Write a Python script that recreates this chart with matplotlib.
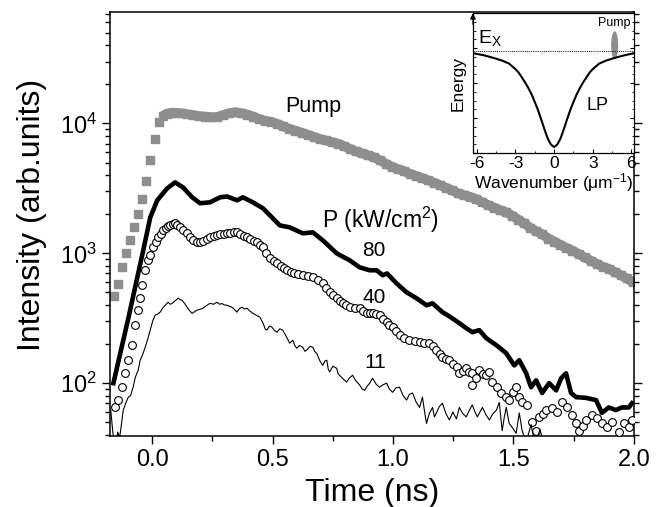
"""
Time-resolved emission intensity for several pump powers, with a dispersion inset.
"""
import matplotlib
matplotlib.use("Agg")
import matplotlib.pyplot as plt
from matplotlib.patches import Ellipse
from matplotlib.ticker import MultipleLocator, LogLocator, NullFormatter

plt.rcParams['font.family'] = ['Liberation Sans', 'DejaVu Sans']
plt.rcParams['mathtext.default'] = 'regular'

# ── data ────────────────────────────────────────────────────────────────────
t_pump = [-0.160, -0.143, -0.126, -0.109, -0.092, -0.075, -0.058, -0.041, -0.024, -0.007,
          0.010, 0.027, 0.044, 0.061, 0.078, 0.095, 0.120, 0.145, 0.170, 0.195,
          0.220, 0.245, 0.270, 0.295, 0.320, 0.345, 0.370, 0.395, 0.420, 0.445,
          0.470, 0.495, 0.520, 0.545, 0.570, 0.595, 0.620, 0.645, 0.670, 0.695,
          0.720, 0.745, 0.770, 0.795, 0.820, 0.845, 0.870, 0.895, 0.920, 0.945,
          0.970, 0.995, 1.020, 1.045, 1.070, 1.095, 1.120, 1.145, 1.170, 1.195,
          1.220, 1.245, 1.270, 1.295, 1.320, 1.345, 1.370, 1.395, 1.420, 1.445,
          1.470, 1.495, 1.520, 1.545, 1.570, 1.595, 1.620, 1.645, 1.670, 1.695,
          1.720, 1.745, 1.770, 1.795, 1.820, 1.845, 1.870, 1.895, 1.920, 1.945,
          1.970, 1.995]
i_pump = [470, 580, 780, 1000, 1260, 1600, 2000, 2600, 3600, 5200,
          7600, 10200, 11400, 11900, 12100, 12100, 12000, 11800, 11600, 11400,
          11300, 11200, 11200, 11600, 12000, 12200, 12000, 11700, 11300, 10800,
          10500, 10300, 9900, 9500, 9100, 8800, 8500, 8200, 7900, 7600,
          7400, 7200, 7000, 6700, 6400, 6100, 5900, 5700, 5500, 5200,
          4900, 4650, 4450, 4300, 4100, 3950, 3800, 3650, 3500, 3350,
          3200, 3050, 2900, 2800, 2720, 2620, 2480, 2350, 2250, 2150,
          2070, 1950, 1820, 1700, 1570, 1480, 1400, 1300, 1230, 1160,
          1100, 1050, 990, 930, 880, 830, 790, 760, 720, 680,
          640, 600]

t_80 = [-0.161, -0.099, -0.037, -0.008, 0.021, 0.062, 0.095, 0.128, 0.166, 0.199,
        0.240, 0.282, 0.311, 0.352, 0.377, 0.418, 0.460, 0.501, 0.530, 0.571,
        0.625, 0.667, 0.708, 0.766, 0.820, 0.861, 0.903, 0.932, 0.957, 0.975,
        1.014, 1.056, 1.097, 1.139, 1.164, 1.205, 1.234, 1.275, 1.304, 1.329,
        1.358, 1.387, 1.429, 1.470, 1.503, 1.524, 1.553, 1.573, 1.594, 1.619,
        1.648, 1.677, 1.698, 1.718, 1.739, 1.760, 1.801, 1.843, 1.867, 1.896,
        1.925, 1.950, 1.979, 1.992]
i_80 = [100, 316, 1055, 1890, 2560, 3160, 3520, 3220, 2700, 2430,
        2470, 2700, 2740, 2560, 2700, 2470, 2220, 1860, 1640, 1585,
        1425, 1450, 1260, 1000, 883, 780, 740, 740, 678, 700,
        588, 501, 451, 398, 412, 352, 327, 290, 265, 247,
        256, 222, 196, 170, 137, 150, 119, 93, 105, 84,
        100, 88, 109, 119, 84, 78, 77, 74, 59, 65,
        62, 65, 65, 70]

t_40 = [-0.153, -0.141, -0.124, -0.112, -0.099, -0.083, -0.070, -0.058, -0.050, -0.041,
        -0.029, -0.017, -0.008, 0.004, 0.014, 0.025, 0.035, 0.046, 0.057, 0.066,
        0.075, 0.085, 0.095, 0.105, 0.116, 0.130, 0.145, 0.157, 0.170, 0.185,
        0.199, 0.213, 0.228, 0.242, 0.256, 0.269, 0.283, 0.297, 0.311, 0.325,
        0.338, 0.352, 0.366, 0.380, 0.393, 0.407, 0.421, 0.435, 0.447, 0.460,
        0.474, 0.489, 0.504, 0.518, 0.533, 0.546, 0.559, 0.575, 0.590, 0.606,
        0.625, 0.645, 0.667, 0.687, 0.708, 0.722, 0.737, 0.751, 0.766, 0.778,
        0.791, 0.805, 0.820, 0.840, 0.861, 0.876, 0.890, 0.905, 0.915, 0.930,
        0.944, 0.958, 0.973, 0.985, 0.998, 1.012, 1.027, 1.047, 1.068, 1.090,
        1.110, 1.130, 1.151, 1.165, 1.180, 1.193, 1.205, 1.220, 1.234, 1.250,
        1.267, 1.275, 1.290, 1.304, 1.316, 1.329, 1.329, 1.345, 1.358, 1.372,
        1.387, 1.400, 1.412, 1.433, 1.449, 1.470, 1.482, 1.497, 1.511, 1.524,
        1.536, 1.557, 1.578, 1.594, 1.607, 1.622, 1.636, 1.660, 1.681, 1.702,
        1.723, 1.743, 1.760, 1.772, 1.787, 1.801, 1.826, 1.847, 1.867, 1.888,
        1.909, 1.938, 1.959, 1.979, 1.992]
i_40 = [65, 74, 93, 119, 150, 196, 279, 365, 451, 568,
        740, 883, 966, 1110, 1220, 1330, 1420, 1500, 1570, 1610,
        1640, 1680, 1700, 1660, 1585, 1500, 1425, 1330, 1260, 1230,
        1215, 1250, 1300, 1330, 1360, 1375, 1400, 1410, 1425, 1440,
        1450, 1450, 1400, 1360, 1330, 1290, 1250, 1215, 1160, 1110,
        1010, 916, 870, 838, 800, 770, 740, 720, 700, 690,
        678, 665, 653, 620, 588, 540, 501, 475, 451, 430,
        412, 398, 384, 380, 378, 360, 345, 345, 345, 340,
        333, 312, 294, 282, 270, 250, 234, 222, 214, 210,
        207, 205, 203, 192, 180, 168, 158, 154, 150, 140,
        133, 119, 125, 130, 122, 119, 97, 110, 126, 118,
        115, 122, 102, 93, 84, 78, 74, 85, 93, 78,
        71, 68, 50, 43, 55, 58, 62, 64, 60, 71,
        65, 57, 49, 43, 47, 52, 57, 54, 49, 46,
        50, 42, 49, 46, 52]

t_11 = [-0.172, -0.165, -0.158, -0.150, -0.143, -0.135, -0.128, -0.120, -0.110, -0.099,
        -0.090, -0.079, -0.070, -0.058, -0.050, -0.040, -0.029, -0.018, -0.008, 0.002,
        0.012, 0.022, 0.033, 0.046, 0.056, 0.066, 0.075, 0.083, 0.095, 0.108,
        0.116, 0.124, 0.135, 0.145, 0.156, 0.166, 0.176, 0.186, 0.198, 0.211,
        0.225, 0.240, 0.255, 0.269, 0.280, 0.290, 0.300, 0.311, 0.321, 0.331,
        0.341, 0.352, 0.362, 0.373, 0.383, 0.393, 0.405, 0.418, 0.430, 0.447,
        0.460, 0.470, 0.476, 0.487, 0.497, 0.507, 0.518, 0.530, 0.542, 0.556,
        0.571, 0.584, 0.592, 0.600, 0.612, 0.625, 0.634, 0.642, 0.655, 0.667,
        0.675, 0.683, 0.695, 0.708, 0.717, 0.725, 0.731, 0.737, 0.750, 0.766,
        0.772, 0.778, 0.792, 0.807, 0.820, 0.832, 0.846, 0.861, 0.872, 0.882,
        0.893, 0.903, 0.915, 0.930, 0.944, 0.958, 0.973, 0.985, 0.998, 1.012,
        1.027, 1.042, 1.056, 1.068, 1.081, 1.095, 1.110, 1.122, 1.131, 1.139,
        1.150, 1.164, 1.172, 1.180, 1.192, 1.205, 1.220, 1.234, 1.248, 1.263,
        1.275, 1.290, 1.304, 1.317, 1.329, 1.340, 1.350, 1.361, 1.371, 1.386,
        1.400, 1.414, 1.429, 1.441, 1.453, 1.462, 1.470, 1.482, 1.497, 1.511,
        1.524, 1.536, 1.553, 1.573, 1.590, 1.610, 1.630, 1.660, 1.700, 1.750,
        1.800, 1.900, 2.000]
i_11 = [62, 45, 34, 36, 42, 38, 48, 62, 70, 78,
        80, 93, 111, 126, 150, 165, 189, 220, 256, 300,
        333, 340, 352, 384, 400, 420, 405, 412, 430, 451,
        440, 435, 410, 384, 360, 345, 355, 365, 370, 378,
        395, 412, 405, 420, 405, 410, 400, 398, 390, 384,
        370, 352, 375, 384, 372, 378, 360, 345, 335, 322,
        290, 260, 256, 275, 270, 255, 247, 262, 256, 230,
        203, 214, 195, 186, 195, 189, 176, 180, 192, 189,
        175, 170, 150, 137, 148, 150, 128, 122, 135, 130,
        118, 115, 108, 102, 110, 115, 104, 97, 90, 88,
        95, 100, 109, 98, 93, 97, 100, 90, 85, 92,
        93, 80, 74, 82, 84, 72, 65, 78, 60, 49,
        58, 65, 55, 59, 66, 70, 58, 52, 60, 53,
        65, 58, 55, 62, 68, 60, 55, 60, 65, 57,
        52, 58, 62, 71, 43, 55, 65, 49, 45, 41,
        59, 43, 35, 48, 33, 44, 32, 36, 30, 33,
        30, 28, 30]

# inset: lower-polariton branch (schematic), Ex level, pump spot
k_lp = [-6.3, -5.5, -5.0, -4.5, -4.0, -3.5, -3.0, -2.75, -2.5, -2.25,
        -2.0, -1.75, -1.5, -1.25, -1.0, -0.75, -0.5, -0.25, 0.0, 0.25,
        0.5, 0.75, 1.0, 1.25, 1.5, 1.75, 2.0, 2.25, 2.5, 2.75,
        3.0, 3.5, 4.0, 4.5, 5.0, 5.5, 6.2]
e_lp = [0.714, 0.700, 0.688, 0.675, 0.660, 0.640, 0.600, 0.575, 0.540, 0.505,
        0.465, 0.420, 0.365, 0.307, 0.240, 0.170, 0.105, 0.062, 0.043, 0.062,
        0.105, 0.170, 0.240, 0.307, 0.365, 0.420, 0.465, 0.505, 0.540, 0.575,
        0.600, 0.640, 0.660, 0.675, 0.688, 0.700, 0.714]
e_x = 0.729
pump_k, pump_e = 4.7, 0.771

GRAY = '#8e8e8e'

fig = plt.figure(figsize=(6.64, 5.07), dpi=100)
ax = fig.add_axes([0.1657, 0.141, 0.789, 0.835])

# pump: separate squares on the rise, dense overlapping band afterwards
ax.plot(t_pump[12:], i_pump[12:], '-', color=GRAY, lw=7, solid_capstyle='butt', zorder=2)
ax.plot(t_pump, i_pump, ls='none', marker='s', ms=6.2, color=GRAY, mec=GRAY, zorder=2)
ax.plot(t_80, i_80, '-', color='black', lw=3.3, solid_joinstyle='round', zorder=3)
ax.plot(t_40, i_40, ls='none', marker='o', ms=5.6, mfc='white', mec='black', mew=0.8, zorder=4)
ax.plot(t_11, i_11, '-', color='black', lw=0.8, zorder=5)

ax.set_yscale('log')
ax.set_xlim(-0.175, 2.0)
ax.set_ylim(39.5, 72000)
ax.xaxis.set_major_locator(MultipleLocator(0.5))
ax.xaxis.set_minor_locator(MultipleLocator(0.25))
ax.xaxis.set_major_formatter(plt.FuncFormatter(lambda v, p: f"{v:.1f}"))
ax.yaxis.set_major_locator(LogLocator(base=10, numticks=10))
ax.yaxis.set_minor_locator(LogLocator(base=10, subs=range(2, 10), numticks=20))
ax.yaxis.set_minor_formatter(NullFormatter())
ax.tick_params(which='both', direction='out', right=True, top=False, labelsize=17, width=1.0)
ax.tick_params(which='major', length=6)
ax.tick_params(which='minor', length=3.5)
for s in ax.spines.values():
    s.set_linewidth(1.1)

ax.set_xlabel('Time (ns)', fontsize=23, labelpad=5)
ax.set_ylabel('Intensity (arb.units)', fontsize=23, labelpad=9)
ax.yaxis.label.set_y(0.52)

ax.text(0.667, 13500, 'Pump', fontsize=15.5, ha='center', va='center')
ax.text(0.948, 1795, 'P (kW/cm$^2$)', fontsize=16.5, ha='center', va='center')
ax.text(0.92, 1055, '80', fontsize=15, ha='center', va='center')
ax.text(0.92, 459, '40', fontsize=15, ha='center', va='center')
ax.text(0.925, 143, '11', fontsize=15, ha='center', va='center')

# ── inset ───────────────────────────────────────────────────────────────────
ins = fig.add_axes([0.7123, 0.698, 0.2425, 0.276])
ins.plot(k_lp, e_lp, '-', color='black', lw=1.5)
ins.axhline(e_x, color='black', lw=0.7, ls=(0, (1, 1.2)))
ins.add_patch(Ellipse((pump_k, pump_e), 0.55, 0.2, color=GRAY, lw=0))
ins.set_xlim(-6.3, 6.2)
ins.set_ylim(0, 1)
ins.xaxis.set_major_locator(MultipleLocator(3))
ins.xaxis.set_minor_locator(MultipleLocator(1.5))
ins.yaxis.set_major_locator(MultipleLocator(0.25))
ins.yaxis.set_minor_locator(MultipleLocator(0.0625))
ins.set_yticklabels([])
ins.tick_params(which='both', direction='in', right=True, top=False, labelsize=12.5, pad=2)
ins.tick_params(which='major', length=3)
ins.tick_params(which='minor', length=1.8)
ins.xaxis.set_major_formatter(plt.FuncFormatter(lambda v, p: f"{v:.0f}".replace('-0', '0')))
ins.set_xlabel('Wavenumber (\u03bcm$^{-1}$)', fontsize=12.5, labelpad=0)
ins.set_ylabel('Energy', fontsize=12.5, labelpad=3)
for s in ins.spines.values():
    s.set_linewidth(0.9)
ins.annotate('', xy=(0, 1.02), xytext=(0, 0.9), xycoords='axes fraction',
             arrowprops=dict(arrowstyle='-|>', color='black', lw=0.9, mutation_scale=8))
ins.text(-5.9, 0.79, 'E$_X$', fontsize=14, ha='left', va='baseline')
ins.text(2.5, 0.31, 'LP', fontsize=13, ha='left', va='baseline')
ins.text(4.63, 0.93, 'Pump', fontsize=9, ha='center', va='center')

fig.savefig('out.png', dpi=100)
